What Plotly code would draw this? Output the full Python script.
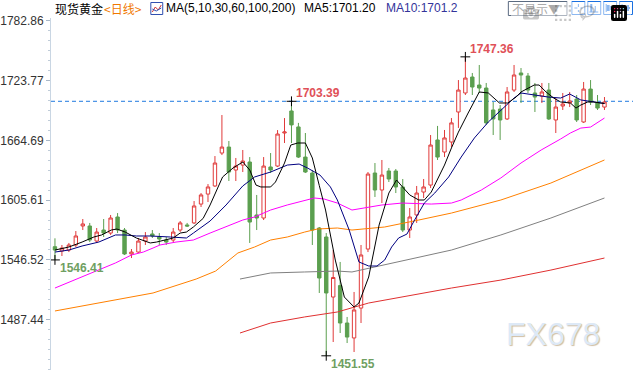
import plotly.graph_objects as go

# ---------------- data ----------------
opens = [1559.5, 1555.2, 1556.2, 1561.2, 1580.0, 1580.0, 1565.1, 1576.0, 1573.0, 1588.9,
         1576.0, 1552.3, 1554.2, 1565.1, 1572.1, 1569.1, 1566.1, 1566.1, 1576.0, 1581.0,
         1583.0, 1601.7, 1611.6, 1619.6, 1652.2, 1658.1, 1635.4, 1640.3, 1643.3, 1590.9,
         1587.9, 1638.4, 1639.3, 1672.0, 1693.8, 1678.0, 1648.2, 1632.4, 1578.0, 1569.1,
         1509.7, 1521.0, 1484.0, 1469.2, 1498.8, 1557.2, 1632.4, 1615.6, 1634.4, 1634.4,
         1618.6, 1576.0, 1590.9, 1613.6, 1620.5, 1665.1, 1653.2, 1663.1, 1692.8, 1711.6,
         1727.4, 1719.5, 1716.5, 1694.8, 1695.7, 1685.9, 1714.5, 1731.4, 1728.4, 1711.6,
         1708.6, 1714.5, 1684.9, 1698.7, 1701.7, 1705.6, 1682.9, 1715.5, 1701.7, 1697.7]
highs = [1567.8, 1561.2, 1563.2, 1575.0, 1586.9, 1583.0, 1578.0, 1586.9, 1590.9, 1592.8,
         1578.0, 1557.2, 1568.1, 1574.0, 1576.0, 1573.0, 1569.1, 1578.0, 1584.9, 1583.0,
         1604.7, 1612.6, 1621.5, 1649.2, 1689.8, 1664.1, 1647.3, 1655.2, 1648.2, 1610.7,
         1648.2, 1652.2, 1674.9, 1686.8, 1703.39, 1682.0, 1672.0, 1635.4, 1579.0, 1573.0,
         1556.2, 1544.4, 1490.0, 1514.7, 1561.2, 1633.4, 1642.3, 1645.3, 1637.4, 1636.4,
         1626.5, 1597.8, 1619.6, 1626.5, 1670.0, 1679.0, 1675.0, 1686.8, 1724.4, 1747.36,
         1731.4, 1739.3, 1721.5, 1702.7, 1699.7, 1717.5, 1739.3, 1736.3, 1731.4, 1721.5,
         1721.5, 1721.5, 1706.6, 1711.6, 1712.6, 1709.6, 1722.5, 1724.4, 1709.6, 1707.6]
lows = [1546.41, 1550.3, 1554.2, 1559.2, 1576.0, 1564.1, 1563.2, 1569.1, 1571.1, 1573.0,
        1551.3, 1548.3, 1553.3, 1561.2, 1568.1, 1561.2, 1561.2, 1564.1, 1574.0, 1579.0,
        1582.0, 1598.8, 1603.7, 1618.6, 1650.2, 1624.5, 1624.5, 1633.4, 1563.2, 1576.0,
        1585.9, 1632.4, 1638.4, 1662.1, 1662.1, 1647.3, 1632.4, 1561.2, 1513.7, 1451.55,
        1465.2, 1474.1, 1464.2, 1455.3, 1484.0, 1554.2, 1608.7, 1602.7, 1623.5, 1612.6,
        1574.0, 1568.1, 1583.0, 1607.7, 1617.6, 1645.3, 1648.2, 1658.1, 1677.0, 1709.6,
        1709.6, 1711.6, 1680.0, 1670.0, 1665.1, 1684.9, 1712.6, 1701.7, 1711.6, 1692.8,
        1701.7, 1684.9, 1672.0, 1694.8, 1697.7, 1682.9, 1682.0, 1699.7, 1694.8, 1694.8]
closes = [1556.2, 1558.2, 1561.2, 1570.1, 1582.0, 1566.1, 1574.0, 1573.0, 1587.9, 1576.0,
          1552.3, 1554.2, 1565.1, 1569.1, 1570.1, 1567.1, 1564.1, 1574.0, 1583.0, 1580.0,
          1599.8, 1610.7, 1618.6, 1642.3, 1658.1, 1633.4, 1639.3, 1644.3, 1583.9, 1587.9,
          1639.3, 1635.4, 1671.0, 1673.0, 1680.0, 1648.2, 1633.4, 1576.0, 1528.5, 1513.7,
          1529.0, 1484.0, 1470.1, 1496.9, 1551.3, 1631.4, 1615.6, 1630.4, 1626.5, 1618.6,
          1576.0, 1588.9, 1612.6, 1618.6, 1660.1, 1648.2, 1667.1, 1682.0, 1714.5, 1726.4,
          1717.5, 1716.5, 1682.0, 1685.9, 1684.9, 1712.6, 1729.4, 1729.4, 1714.5, 1707.6,
          1712.6, 1685.9, 1697.7, 1700.7, 1703.7, 1684.9, 1715.5, 1702.7, 1696.7, 1702.7]
bar_index = list(range(len(closes)))

# moving-average lines (bar position, value)
ma5_x = [0, 2, 3.9, 5.6, 6.7, 8.1, 8.9, 10.1, 11.7, 13.7, 14.6, 16, 17, 18, 18.9, 19.9, 21.3, 22.3,
         23.4, 24.1, 25.6, 27, 28, 28.9, 29.6, 31, 31.7, 33, 33.9, 34.9, 36, 37, 38, 38.9, 40.3,
         41.6, 43, 43.7, 45.1, 46.6, 48, 49.1, 50.1, 51, 52.3, 53.1, 54.1, 55, 56, 57, 58, 59.4,
         61, 62.3, 63.9, 65.1, 66.3, 67, 68.9, 69.6, 70.6, 71.7, 72.7, 74.1, 74.9, 75.6, 76.6,
         77.4, 79]
ma5_y = [1556.2, 1559.2, 1564.1, 1569.1, 1571.1, 1576.0, 1577.0, 1574.0, 1568.1, 1563.2, 1564.1,
         1566.1, 1568.1, 1573.0, 1574.0, 1579.0, 1587.5, 1600.8, 1618.6, 1628.5, 1637.4, 1643.3,
         1635.4, 1620.5, 1618.6, 1618.6, 1623.5, 1642.3, 1660.1, 1662.1, 1662.1, 1647.3, 1620.0,
         1595.8, 1546.3, 1509.7, 1499.8, 1503.8, 1529.5, 1581.0, 1612.6, 1625.5, 1617.6, 1610.7,
         1605.7, 1605.7, 1613.6, 1625.5, 1640.3, 1657.2, 1672.9, 1691.8, 1712.6, 1711.6, 1701.7,
         1701.7, 1707.6, 1712.6, 1719.5, 1719.5, 1712.6, 1706.6, 1702.7, 1701.7, 1696.7, 1699.7,
         1702.7, 1702.7, 1701.2]
ma10_x = [0, 2, 3.9, 6.3, 8.7, 10.1, 11.7, 13.7, 16.6, 18, 18.9, 19.9, 22.3, 24.6, 27, 28.7, 31,
          33.4, 35.1, 36.3, 38.1, 39.6, 40.6, 42.3, 43.7, 45.1, 46.3, 47.4, 48.4, 49.4, 50.6,
          51.7, 53.1, 54.6, 56.6, 58.4, 60.3, 62.3, 64.1, 66, 67, 68.9, 70.9, 72.7, 74, 75.6,
          77.4, 79]
ma10_y = [1554.2, 1556.2, 1560.2, 1564.1, 1571.1, 1571.1, 1570.1, 1570.1, 1569.1, 1568.1, 1568.1,
          1573.0, 1584.9, 1600.8, 1619.6, 1628.5, 1633.4, 1640.3, 1641.3, 1637.4, 1630.4, 1618.6,
          1605.7, 1576.0, 1544.4, 1540.4, 1540.4, 1546.3, 1559.2, 1568.1, 1572.0, 1585.9, 1602.7,
          1612.6, 1628.5, 1648.2, 1667.1, 1682.9, 1694.8, 1706.6, 1711.6, 1709.6, 1707.6, 1706.6,
          1710.6, 1704.7, 1702.7, 1701.2]
ma30_x = [0, 3.1, 6.3, 8.7, 11, 12.7, 14.1, 15.1, 17.4, 19.9, 22.3, 24.6, 27, 28.7, 31, 33.4,
          35.9, 37.3, 38.7, 40.6, 42.7, 44.6, 47, 49.9, 54.1, 57, 58.4, 61.3, 64.1, 67, 69.9,
          72.7, 74.1, 75.6, 77, 79]
ma30_y = [1518.6, 1527.5, 1536.4, 1543.4, 1551.3, 1554.2, 1558.2, 1561.2, 1564.1, 1566.1, 1573.0,
          1579.0, 1585.9, 1588.9, 1595.8, 1600.8, 1605.7, 1607.7, 1606.7, 1602.7, 1595.8, 1597.8,
          1600.8, 1602.7, 1601.7, 1602.7, 1605.7, 1615.6, 1627.5, 1642.3, 1655.2, 1666.1, 1672.0,
          1676.9, 1677.9, 1686.8]
ma60_x = [0, 7, 14.1, 20.3, 23.1, 26.3, 28.7, 31, 33.4, 35.9, 37.7, 40.6, 42.7, 47.4, 49.9,
          52.3, 57, 64.1, 71.3, 79]
ma60_y = [1495.9, 1504.8, 1513.7, 1527.5, 1535.4, 1553.3, 1559.2, 1566.1, 1569.1, 1574.0,
          1577.0, 1578.0, 1576.0, 1579.0, 1582.9, 1585.9, 1592.8, 1605.7, 1622.5, 1645.3]
ma100_x = [26.6, 31, 35.9, 40.6, 42.7, 47.4, 52.3, 57, 64.1, 71.3, 79]
ma100_y = [1527.5, 1533.5, 1534.5, 1535.4, 1534.5, 1541.4, 1549.3, 1556.2, 1571.1, 1587.9, 1607.7]
ma200_x = [26.6, 31, 35.9, 40.6, 45.1, 49.9, 57, 64.1, 71.3, 79]
ma200_y = [1474.1, 1484.0, 1490.0, 1494.9, 1503.8, 1509.7, 1518.6, 1526.5, 1536.4, 1548.3]

tick_values = [1487.44, 1546.52, 1605.61, 1664.69, 1723.77, 1782.86]
tick_labels = ["1487.44", "1546.52", "1605.61", "1664.69", "1723.77", "1782.86"]
ref_level = 1703.39

# marked extremes: (bar index, kind)
extreme_bars = [34, 59, 0, 39]
extreme_kind = ["high", "high", "low", "low"]

header_title = "现货黄金"
header_period = "<日线>"
header_ma = "MA(5,10,30,60,100,200)"
header_ma5 = "MA5:1701.20"
header_ma10 = "MA10:1701.2"
button_label = "不显示▼"
watermark = "FX678"

# ---------------- figure ----------------
W, H, L, T = 633, 370, 47, 18
def px(X):
    return (X - L) / (W - L)
def py(Y):
    return (H - Y) / (H - T)

RED = "#e03a3a"
GREEN = "#5b9f4f"

fig = go.Figure()
fig.add_trace(go.Candlestick(
    x=bar_index, open=opens, high=highs, low=lows, close=closes,
    increasing=dict(line=dict(color=RED, width=1), fillcolor="white"),
    decreasing=dict(line=dict(color=GREEN, width=1), fillcolor=GREEN),
    whiskerwidth=0, hoverinfo="skip", showlegend=False))

for xs, ys, col in [(ma200_x, ma200_y, "#e03030"), (ma100_x, ma100_y, "#808080"),
                    (ma60_x, ma60_y, "#ff8000"), (ma30_x, ma30_y, "#ff00ff"),
                    (ma10_x, ma10_y, "#000080"), (ma5_x, ma5_y, "#000000")]:
    fig.add_trace(go.Scatter(x=xs, y=ys, mode="lines", line=dict(color=col, width=1),
                             hoverinfo="skip", showlegend=False))

mk_x = [bar_index[i] for i in extreme_bars]
mk_y = [highs[i] if k == "high" else lows[i] for i, k in zip(extreme_bars, extreme_kind)]
fig.add_trace(go.Scatter(x=mk_x, y=mk_y, mode="markers",
                         marker=dict(symbol="cross-thin", size=7, line=dict(color="black", width=1)),
                         hoverinfo="skip", showlegend=False))

annotations = []
for x, y, k in zip(mk_x, mk_y, extreme_kind):
    annotations.append(dict(x=x, y=y, xref="x", yref="y", text=f"<b>{y:.2f}</b>", showarrow=False,
                            xanchor="left", yanchor="middle", xshift=3,
                            yshift=8 if k == "high" else -8,
                            font=dict(family="Liberation Sans, Arial", size=12,
                                      color="#e05058" if k == "high" else "#6f9f62")))

hdr_y = py(8.5)
hdr_font = "Liberation Sans, Noto Sans CJK SC"
annotations += [
    dict(x=px(49), y=hdr_y, text=header_title, font=dict(family="Noto Sans CJK SC", size=12, color="#000")),
    dict(x=px(98), y=hdr_y, text=header_period, font=dict(family="Noto Sans CJK SC", size=12, color="#f07800")),
    dict(x=px(161), y=hdr_y, text=header_ma, font=dict(family=hdr_font, size=12, color="#000")),
    dict(x=px(300), y=hdr_y, text=header_ma5, font=dict(family=hdr_font, size=12, color="#000")),
    dict(x=px(382), y=hdr_y, text=header_ma10, font=dict(family=hdr_font, size=12, color="#33339a")),
    dict(x=px(509), y=hdr_y, text=button_label, font=dict(family="Noto Sans CJK SC", size=12, color="#555")),
]
for a in annotations[-6:]:
    a.update(xref="paper", yref="paper", showarrow=False, xanchor="left", yanchor="middle")

annotations.append(dict(x=px(552), y=py(334), xref="paper", yref="paper", text=watermark,
                        showarrow=False, xanchor="center", yanchor="middle",
                        font=dict(family="Liberation Sans, Arial", size=32, color="#dde9f7",
                                  shadow="1px 1px 1px #d0bea4")))

shapes = [dict(type="line", xref="paper", yref="y", x0=0, x1=1, y0=ref_level, y1=ref_level,
               line=dict(color="#1f7ae0", width=1, dash="4px,3px"), layer="below")]

def rect(x0, y0, x1, y1, col, fill="white", w=1):
    return dict(type="rect", xref="paper", yref="paper", x0=px(x0), x1=px(x1), y0=py(y1), y1=py(y0),
                line=dict(color=col, width=w), fillcolor=fill, layer="above")
def seg(x0, y0, x1, y1, col, w=1, dash="solid"):
    return dict(type="line", xref="paper", yref="paper", x0=px(x0), x1=px(x1), y0=py(y0), y1=py(y1),
                line=dict(color=col, width=w, dash=dash), layer="above")

BLUE = "#1a70e0"
# small chart icon in header
shapes += [rect(147.5, 2.5, 159.5, 14.5, "#3050b0"),
           seg(149, 12, 152, 7, "#d03030"), seg(152, 7, 155, 10, "#d03030"), seg(155, 10, 158, 5, "#d03030"),
           seg(149, 9, 153, 11, "#3050b0"), seg(153, 11, 158, 8, "#3050b0")]
# "不显示" button
shapes.append(rect(507.5, 1.5, 566.5, 15.5, "#5a6a80"))
# four tool icons
for X in [571, 587, 603, 619]:
    shapes.append(rect(X + 0.5, 1.5, X + 13.5, 14.5, BLUE))
shapes += [seg(574, 8, 582, 8, BLUE, 1, "dot"), seg(578, 4, 578, 12, BLUE, 1, "dot"),
           seg(591, 4, 591, 12, BLUE, 2), seg(589, 12, 598, 12, BLUE), seg(595, 6, 595, 12, BLUE),
           seg(606, 4, 606, 12, BLUE), seg(608, 5, 608, 11, BLUE, 3), seg(611, 6, 611, 10, BLUE, 2),
           seg(622, 4, 622, 12, BLUE), seg(624, 8, 630, 8, BLUE, 2), seg(628, 5, 628, 11, BLUE, 2)]

fig.update_layout(
    width=W, height=H, margin=dict(l=L, r=0, t=T, b=0),
    paper_bgcolor="white", plot_bgcolor="white",
    annotations=annotations, shapes=shapes,
    xaxis=dict(range=[-0.57, 83.1], visible=False, rangeslider=dict(visible=False), fixedrange=True),
    yaxis=dict(range=[1437.5, 1785.8], tickmode="array", tickvals=tick_values, ticktext=tick_labels,
               showline=True, linecolor="#c9d6e3", linewidth=1, ticks="outside", ticklen=4,
               tickcolor="#a9b8c8", showgrid=False, zeroline=False, fixedrange=True,
               tickfont=dict(family="Liberation Sans, Arial", size=12, color="#333"),
               minor=dict(tick0=1487.44, dtick=59.084 / 6, ticklen=2, tickcolor="#c0ccd8",
                          ticks="outside", showgrid=False)),
    font=dict(family="Liberation Sans, Arial"),
)

fig.write_html("out.html", post_script="document.body.style.margin='0';")
